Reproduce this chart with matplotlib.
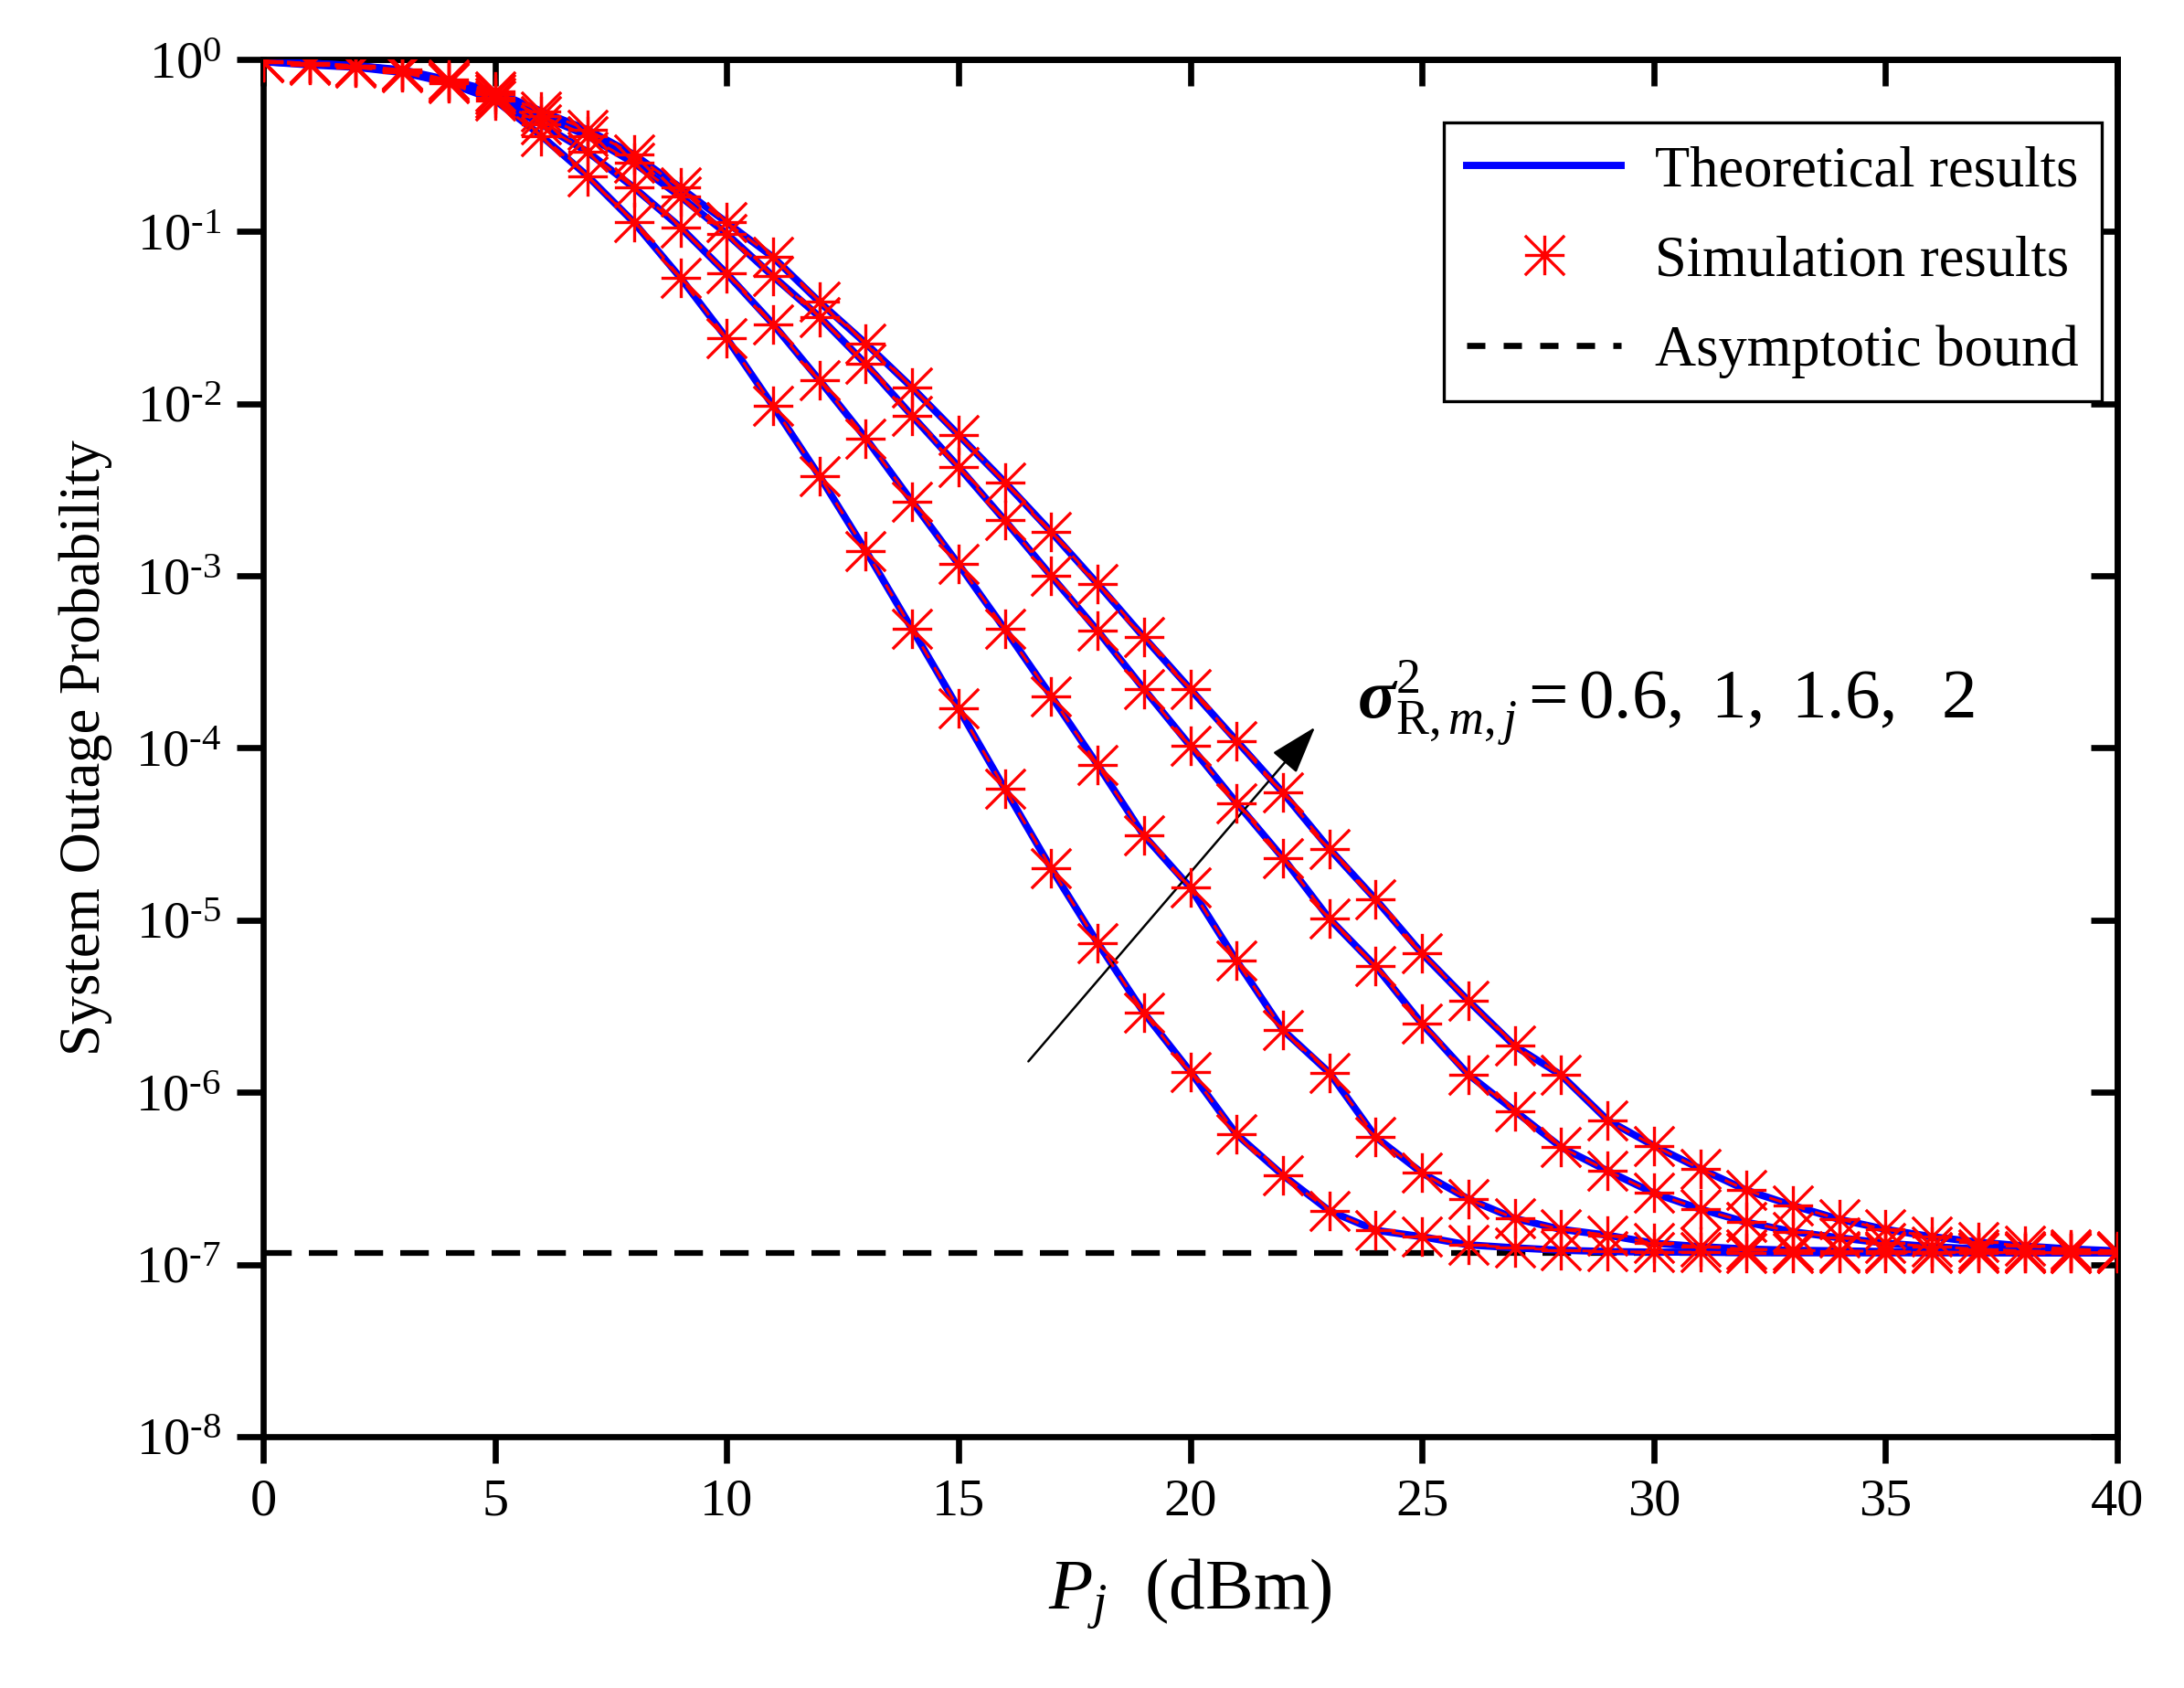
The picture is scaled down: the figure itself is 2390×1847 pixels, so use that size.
import numpy as np
import matplotlib
matplotlib.use("Agg")
from matplotlib import pyplot as plt
from matplotlib.path import Path
from matplotlib.lines import Line2D
from matplotlib.ticker import NullLocator, FixedLocator

plt.rcParams['font.family'] = ['Liberation Serif', 'DejaVu Serif']
plt.rcParams['mathtext.fontset'] = 'custom'
plt.rcParams['mathtext.rm'] = 'Liberation Serif'
plt.rcParams['mathtext.it'] = 'Liberation Serif:italic'
plt.rcParams['mathtext.bf'] = 'Liberation Serif:bold:italic'

# transmit power P_j (dBm)
p_dbm = np.arange(0, 41)

# outage probability, sigma^2 = 0.6
out_06 = [0.97, 0.93, 0.90, 0.84, 0.73, 0.58, 0.36, 0.21, 0.113, 0.054,
          0.024, 0.0097, 0.0038, 0.0014, 4.9e-4, 1.7e-4, 5.8e-5, 2.0e-5, 7.4e-6, 2.9e-6,
          1.32e-6, 5.7e-7, 3.3e-7, 2.05e-7, 1.58e-7, 1.45e-7, 1.3e-7, 1.25e-7, 1.21e-7, 1.19e-7,
          1.18e-7, 1.18e-7, 1.17e-7, 1.17e-7, 1.17e-7, 1.17e-7, 1.17e-7, 1.17e-7, 1.17e-7, 1.17e-7,
          1.17e-7]
# sigma^2 = 1
out_1 = [0.97, 0.94, 0.91, 0.85, 0.74, 0.60, 0.42, 0.29, 0.18, 0.106,
         0.057, 0.029, 0.0137, 0.0063, 0.0027, 0.00117, 4.9e-4, 2.0e-4, 8.0e-5, 3.1e-5,
         1.55e-5, 5.8e-6, 2.3e-6, 1.3e-6, 5.5e-7, 3.4e-7, 2.4e-7, 1.85e-7, 1.6e-7, 1.48e-7,
         1.33e-7, 1.27e-7, 1.23e-7, 1.21e-7, 1.2e-7, 1.19e-7, 1.18e-7, 1.18e-7, 1.17e-7, 1.17e-7,
         1.17e-7]
# sigma^2 = 1.6
out_16 = [0.98, 0.95, 0.92, 0.86, 0.75, 0.63, 0.47, 0.36, 0.25, 0.16,
          0.097, 0.055, 0.032, 0.017, 0.0085, 0.0043, 0.0021, 0.001, 4.8e-4, 2.2e-4,
          1.03e-4, 4.8e-5, 2.3e-5, 1.02e-5, 5.4e-6, 2.5e-6, 1.27e-6, 7.8e-7, 4.8e-7, 3.5e-7,
          2.6e-7, 2.1e-7, 1.76e-7, 1.55e-7, 1.43e-7, 1.33e-7, 1.27e-7, 1.23e-7, 1.2e-7, 1.19e-7,
          1.18e-7]
# sigma^2 = 2
out_2 = [0.98, 0.95, 0.92, 0.87, 0.76, 0.65, 0.50, 0.39, 0.28, 0.18,
         0.113, 0.071, 0.039, 0.0224, 0.0124, 0.0066, 0.0035, 0.0018, 9.0e-4, 4.4e-4,
         2.2e-4, 1.1e-4, 5.5e-5, 2.6e-5, 1.32e-5, 6.4e-6, 3.4e-6, 1.86e-6, 1.26e-6, 6.9e-7,
         4.9e-7, 3.6e-7, 2.7e-7, 2.2e-7, 1.83e-7, 1.6e-7, 1.45e-7, 1.35e-7, 1.28e-7, 1.23e-7,
         1.2e-7]
curves = [out_06, out_1, out_16, out_2]

asym_bound = 1.17e-7

xticks = [0, 5, 10, 15, 20, 25, 30, 35, 40]
ydecades = [0, -1, -2, -3, -4, -5, -6, -7, -8]

# 8-arm asterisk like the Origin marker
star = Path([(-1, 0), (1, 0), (0, -1), (0, 1), (-1, -1), (1, 1), (-1, 1), (1, -1)],
            [Path.MOVETO, Path.LINETO] * 4)

fig = plt.figure(figsize=(2390 / 300, 1847 / 300), dpi=300)
ax = fig.add_axes([0.1205, 0.1489, 0.849, 0.8159])

for c in curves:
    ax.plot(p_dbm, c, color='blue', lw=1.9, zorder=3)
    ax.plot(p_dbm, c, color='red', lw=0.7, dashes=(5, 4), zorder=4)
    ax.plot(p_dbm, c, ls='none', marker=star, ms=10.4, mec='red', mew=0.8, zorder=5)

ax.axhline(asym_bound, color='black', lw=1.5, dashes=(5, 3), zorder=2)

ax.set_yscale('log')
ax.set_xlim(0, 40)
ax.set_ylim(1e-8, 1)
ax.set_xticks(xticks)
ax.set_xticklabels([str(t) for t in xticks])
ax.yaxis.set_major_locator(FixedLocator([10.0 ** d for d in ydecades]))
ax.yaxis.set_minor_locator(NullLocator())
ylabels = [r'$\mathregular{10^{0}}$'] + \
          [r'$\mathregular{10^{\text{-}%d}}$' % -d for d in ydecades[1:]]
ax.set_yticklabels(ylabels)

for s in ax.spines.values():
    s.set_linewidth(1.6)
ax.tick_params(which='major', direction='out', length=7, width=1.6, labelsize=14, pad=4)

top = ax.secondary_xaxis('top')
top.set_xticks(xticks)
top.tick_params(direction='in', length=7, width=1.6, labeltop=False)
right = ax.secondary_yaxis('right')
right.yaxis.set_major_locator(FixedLocator([10.0 ** d for d in ydecades]))
right.yaxis.set_minor_locator(NullLocator())
right.tick_params(direction='in', length=7, width=1.6, labelright=False)
for sa in (top, right):
    for s in sa.spines.values():
        s.set_linewidth(1.6)

ax.set_xlabel(r'$P_j$  (dBm)', fontsize=19, labelpad=8)
ax.set_ylabel('System Outage Probability', fontsize=15, labelpad=6)

ax.annotate('', xy=(22.8, 1.43e-4), xytext=(16.4, 1.4e-6),
            arrowprops=dict(arrowstyle='-|>,head_length=0.55,head_width=0.18',
                            mutation_scale=20, lw=0.6, color='black'))
ax.text(23.6, 10 ** -3.74, r'$\mathbf{\sigma}^2_{\mathrm{R},m,j}=0.6,\ 1,\ 1.6,\ \ 2$',
        fontsize=18.5, va='center', ha='left')

handles = [Line2D([], [], color='blue', lw=1.9),
           Line2D([], [], ls='none', marker=star, ms=10.4, mec='red', mew=0.8),
           Line2D([], [], color='black', lw=1.6, dashes=(3, 3))]
labels = ['Theoretical results', 'Simulation results', 'Asymptotic bound']
leg = ax.legend(handles, labels, loc='upper right', bbox_to_anchor=(0.9916, 0.9542),
                borderaxespad=0, fontsize=15, handlelength=2.7, handletextpad=0.6,
                labelspacing=0.64, fancybox=False, edgecolor='black', framealpha=1,
                borderpad=0.4)
leg.get_frame().set_linewidth(0.8)

fig.savefig('out.png', dpi=300)
